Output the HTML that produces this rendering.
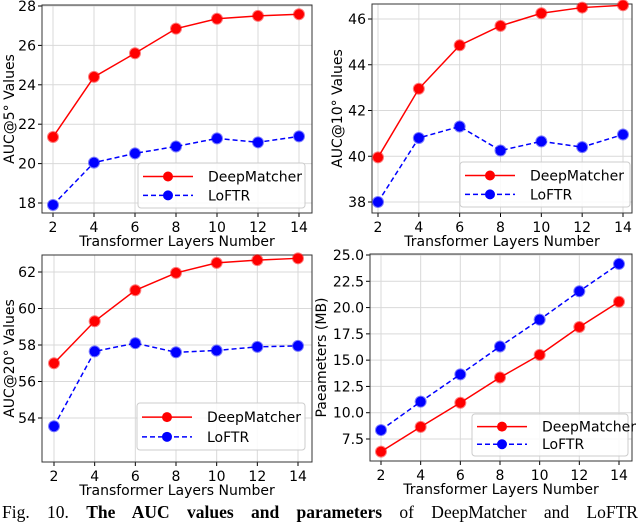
<!DOCTYPE html>
<html><head><meta charset="utf-8"><style>
body{margin:0;background:#fff;width:640px;height:523px;overflow:hidden}
svg text{font-family:"DejaVu Sans","Liberation Sans",sans-serif;fill:#000}
.cap{position:absolute;left:2px;top:502px;width:636px;font-family:"Liberation Serif",serif;font-size:17.5px;white-space:nowrap;text-align:justify;text-align-last:justify}
</style></head><body>
<svg id="chart" width="640" height="500" style="position:absolute;left:0;top:0"></svg>
<div class="cap">Fig. 10. <b>The AUC values and parameters</b> of DeepMatcher and LoFTR</div>
<script>
const xCats=[2,4,6,8,10,12,14];
const p1DM=[21.35,24.4,25.6,26.85,27.35,27.5,27.58];
const p1LO=[17.9,20.05,20.52,20.87,21.28,21.08,21.38];
const p2DM=[39.95,42.95,44.85,45.7,46.25,46.5,46.6];
const p2LO=[38.0,40.8,41.3,40.25,40.65,40.4,40.95];
const p3DM=[57.0,59.3,61.0,61.95,62.5,62.65,62.75];
const p3LO=[53.55,57.65,58.1,57.6,57.7,57.9,57.95];
const p4DM=[6.3,8.65,10.95,13.35,15.5,18.15,20.55];
const p4LO=[8.35,11.05,13.65,16.3,18.85,21.55,24.15];
const p1Ticks=["18","20","22","24","26","28"];
const p2Ticks=["38","40","42","44","46"];
const p3Ticks=["54","56","58","60","62"];
const p4Ticks=["7.5","10.0","12.5","15.0","17.5","20.0","22.5","25.0"];
const NS="http://www.w3.org/2000/svg";
const svg=document.getElementById('chart');
function mk(tag,at,parent){const e=document.createElementNS(NS,tag);for(const k in at)e.setAttribute(k,at[k]);(parent||svg).appendChild(e);return e;}
function panel(o){
 const g=mk('g',{});
 
 
 const xs=v=>o.x2+(v-2)/12*(o.x14-o.x2);
 const ys=v=>o.yA+(v-o.vA)/(o.vB-o.vA)*(o.yB-o.yA);
 xCats.forEach(c=>{const l=mk('line',{x1:xs(c),x2:xs(c),y1:o.top,y2:o.bot,stroke:'#d9d9d9','stroke-width':1},g);
  
  mk('line',{x1:xs(c),x2:xs(c),y1:o.bot,y2:o.bot+4,stroke:'#000'},g);
  const tx=mk('text',{x:xs(c),y:o.bot+19,'text-anchor':'middle','font-size':14},g);tx.textContent=c;
  });
 o.ticks.forEach(s=>{const v=parseFloat(s);const y=ys(v);
  const l=mk('line',{x1:o.left,x2:o.right,y1:y,y2:y,stroke:'#d9d9d9'},g);
  
  mk('line',{x1:o.left-4,x2:o.left,y1:y,y2:y,stroke:'#000'},g);
  const tx=mk('text',{x:o.left-6,y:y+5,'text-anchor':'end','font-size':14},g);tx.textContent=s;
  });
 const fr=mk('rect',{x:o.left,y:o.top,width:o.right-o.left,height:o.bot-o.top,fill:'none',stroke:'#333','stroke-width':1},g);
 
 const series=[[o.dm,'#ff0000','none','deepmatcher'],[o.lo,'#0000ff','5,3','loftr']];
 series.forEach(([d,c,da,nm])=>{
  const pl=mk('polyline',{points:d.map((v,i)=>xs(xCats[i])+','+ys(v)).join(' '),fill:'none',stroke:c,'stroke-width':1.5,'stroke-dasharray':da},g);
  
  d.forEach((v,i)=>{const p=mk('circle',{cx:xs(xCats[i]),cy:ys(v),r:5,fill:c,stroke:c,'stroke-opacity':0.5,'stroke-width':2},g);
   });
 });
 const L=o.leg;
 const lg=mk('g',{},g);
 mk('rect',{x:L[0],y:L[1],width:L[2],height:L[3],rx:3,fill:'#fff','fill-opacity':0.85,stroke:'#ccc'},lg);
 [['DeepMatcher','#ff0000','none'],['LoFTR','#0000ff','5,3']].forEach((s,i)=>{
  const yy=L[1]+L[3]*(i?0.72:0.3);
  mk('line',{x1:L[0]+5,x2:L[0]+55,y1:yy,y2:yy,stroke:s[1],'stroke-width':1.5,'stroke-dasharray':s[2]},lg);
  mk('circle',{cx:L[0]+30,cy:yy,r:5,fill:s[1]},lg);
  const t=mk('text',{x:L[0]+70,y:yy+5,'font-size':14},lg);t.textContent=s[0];
  
 });
 const xl=mk('text',{x:(o.left+o.right)/2,y:o.bot+33,'text-anchor':'middle','font-size':14},g);xl.textContent='Transformer Layers Number';
 
 const cy=(o.top+o.bot)/2;
 const yl=mk('text',{x:o.ylx,y:cy,'text-anchor':'middle','font-size':14,transform:`rotate(-90 ${o.ylx} ${cy})`},g);yl.textContent=o.ylabel;
 
}
panel({name:'auc5-chart',left:42,right:312,top:5,bot:213,x2:53,x14:299,vA:28,yA:6,vB:18,yB:203,ticks:p1Ticks,dm:p1DM,lo:p1LO,leg:[138,163,167,45],ylabel:'AUC@5° Values',ylx:14});
panel({name:'auc10-chart',left:372,right:632,top:4,bot:213,x2:378,x14:623,vA:46,yA:19,vB:38,yB:202,ticks:p2Ticks,dm:p2DM,lo:p2LO,leg:[460,162,170,45],ylabel:'AUC@10° Values',ylx:342});
panel({name:'auc20-chart',left:42,right:312,top:255,bot:462,x2:54,x14:298,vA:62,yA:272,vB:54,yB:418,ticks:p3Ticks,dm:p3DM,lo:p3LO,leg:[137,403,168,47],ylabel:'AUC@20° Values',ylx:14});
panel({name:'params-chart',left:370,right:632,top:254,bot:461,x2:381,x14:619,vA:25,yA:255,vB:7.5,yB:439,ticks:p4Ticks,dm:p4DM,lo:p4LO,leg:[472,414,156,42],ylabel:'Paeameters (MB)',ylx:326});
</script>
</body></html>
